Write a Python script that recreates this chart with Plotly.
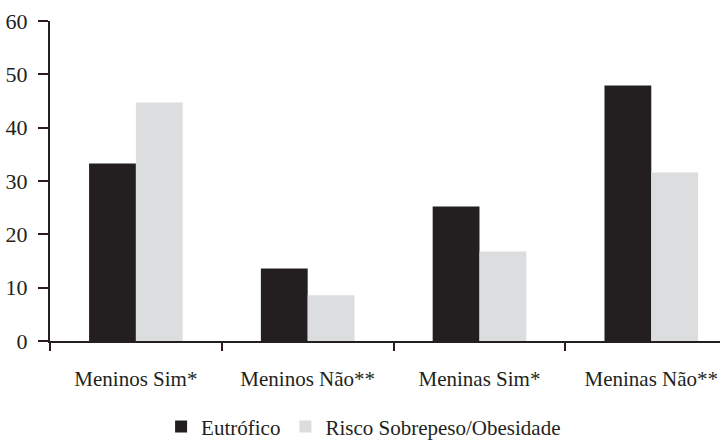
import plotly.graph_objects as go

categorias = ["Meninos Sim*", "Meninos Não**", "Meninas Sim*", "Meninas Não**"]
eutrofico = [33.3, 13.6, 25.2, 47.9]
risco = [44.7, 8.6, 16.8, 31.6]
y_ticks = [0, 10, 20, 30, 40, 50, 60]

fonte = dict(family="Liberation Serif", size=21, color="#231f20")
fonte_y = dict(family="Liberation Serif", size=22, color="#231f20")
cor_eixo = "#231f20"
cor_tick = "#2e1a1c"

fig = go.Figure()
fig.add_trace(go.Bar(name="Eutrófico", x=categorias, y=eutrofico,
                     marker=dict(color="#231f20", line=dict(width=0))))
fig.add_trace(go.Bar(name="Risco Sobrepeso/Obesidade", x=categorias, y=risco,
                     marker=dict(color="#dcdddf", line=dict(width=0))))

fig.update_layout(
    width=720, height=440,
    margin=dict(l=50, r=0, t=21, b=99),
    paper_bgcolor="white", plot_bgcolor="white",
    barmode="group", bargap=0.455, bargroupgap=0,
    font=fonte,
    showlegend=True,
    legend=dict(orientation="h", xref="container", x=0.505, xanchor="center",
                yref="container", y=0.03, yanchor="middle",
                font=fonte, itemwidth=30, tracegroupgap=0,
                bgcolor="rgba(0,0,0,0)"),
    xaxis=dict(
        type="category", range=[-0.5, 3.4],
        showline=True, linecolor=cor_eixo, linewidth=2,
        tickson="boundaries", ticks="outside", ticklen=8, tickwidth=2,
        tickcolor=cor_tick, showgrid=False, zeroline=False,
        tickfont=fonte, ticklabelstandoff=18, automargin=False,
    ),
    yaxis=dict(
        range=[0, 60], tickvals=y_ticks,
        showline=True, linecolor=cor_eixo, linewidth=2,
        ticks="outside", ticklen=10, tickwidth=2, tickcolor=cor_tick,
        showgrid=False, zeroline=False, tickfont=fonte_y, ticklabelstandoff=6,
        automargin=False,
    ),
)

fig.write_html("out.html")
